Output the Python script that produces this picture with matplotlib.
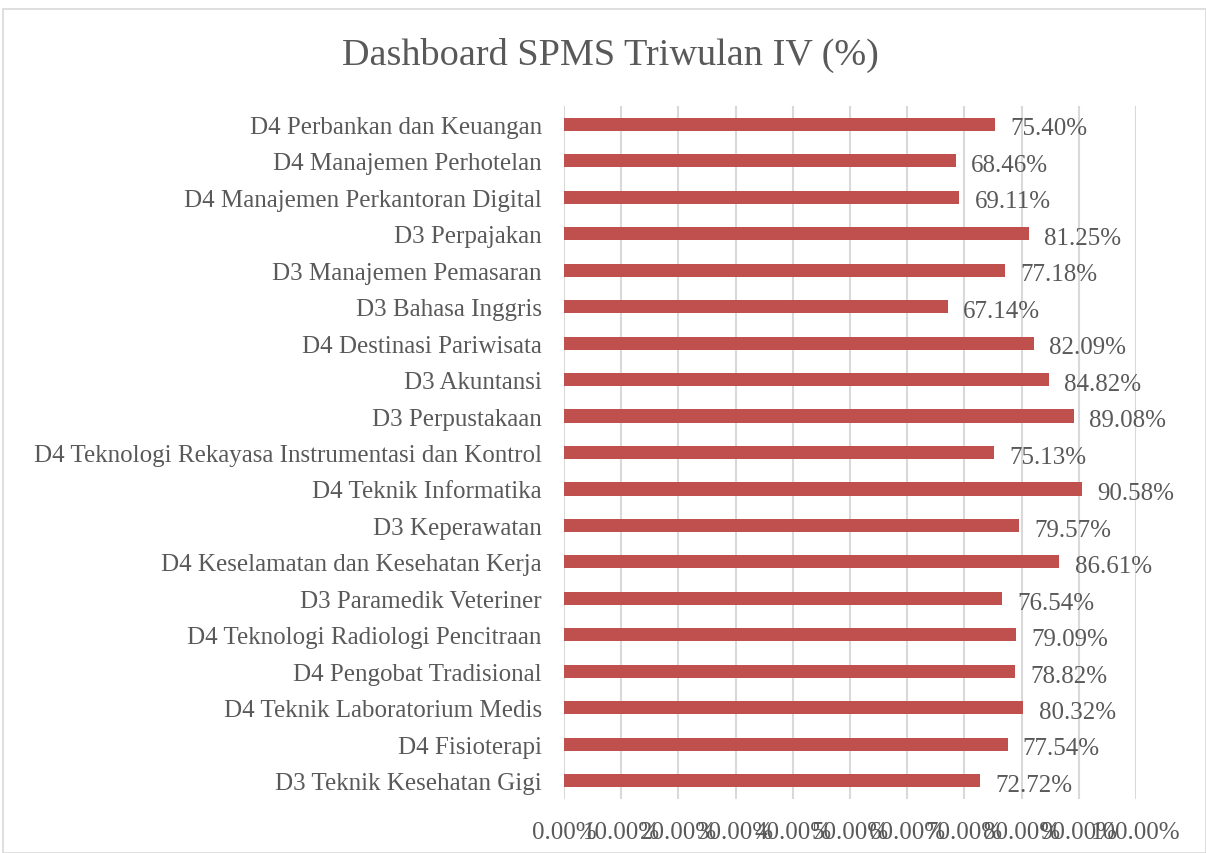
import matplotlib
matplotlib.use('Agg')
import matplotlib.pyplot as plt
from matplotlib.patches import Rectangle

# top-to-bottom order as shown in the chart
PROGRAMS = [
    'D4 Perbankan dan Keuangan',
    'D4 Manajemen Perhotelan',
    'D4 Manajemen Perkantoran Digital',
    'D3 Perpajakan',
    'D3 Manajemen Pemasaran',
    'D3 Bahasa Inggris',
    'D4 Destinasi Pariwisata',
    'D3 Akuntansi',
    'D3 Perpustakaan',
    'D4 Teknologi Rekayasa Instrumentasi dan Kontrol',
    'D4 Teknik Informatika',
    'D3 Keperawatan',
    'D4 Keselamatan dan Kesehatan Kerja',
    'D3 Paramedik Veteriner',
    'D4 Teknologi Radiologi Pencitraan',
    'D4 Pengobat Tradisional',
    'D4 Teknik Laboratorium Medis',
    'D4 Fisioterapi',
    'D3 Teknik Kesehatan Gigi',
]
SCORES = [75.40, 68.46, 69.11, 81.25, 77.18, 67.14, 82.09, 84.82, 89.08, 75.13,
          90.58, 79.57, 86.61, 76.54, 79.09, 78.82, 80.32, 77.54, 72.72]
X_TICKS = [0, 10, 20, 30, 40, 50, 60, 70, 80, 90, 100]

BAR_COLOR = '#C0504D'
TEXT_COLOR = '#595959'
GRID_COLOR = '#D9D9D9'
FS = 18

plt.rcParams['font.family'] = ['Liberation Serif', 'DejaVu Serif']

fig = plt.figure(figsize=(12.06, 8.54), dpi=100)
fig.patches.append(Rectangle((3 / 1206, 0), 1 - 3 / 1206, 1 - 10 / 854,
                             transform=fig.transFigure, fill=False,
                             edgecolor=GRID_COLOR, linewidth=1.2))

ax = fig.add_axes([564 / 1206, 1 - 800 / 854, (1136 - 564) / 1206, (800 - 107) / 854])
ypos = list(range(len(PROGRAMS)))
ax.barh(ypos, SCORES, height=0.36, color=BAR_COLOR, zorder=3)
ax.set_ylim(len(PROGRAMS) - 0.5, -0.5)
ax.set_xlim(0, 100)

ax.set_yticks(ypos)
ax.set_yticklabels(PROGRAMS, fontsize=FS, color=TEXT_COLOR)
ax.set_xticks(X_TICKS)
ax.set_xticklabels([f'{t:.2f}%' for t in X_TICKS], fontsize=FS, color=TEXT_COLOR)
ax.tick_params(axis='both', length=0)
ax.tick_params(axis='y', pad=16)
ax.tick_params(axis='x', pad=16)
ax.grid(axis='x', color=GRID_COLOR, linewidth=1.5, zorder=0)
for s in ax.spines.values():
    s.set_visible(False)

for y, v in zip(ypos, SCORES):
    ax.annotate(f'{v:.2f}%', (v, y), xytext=(11, -3), textcoords='offset points',
                va='center', ha='left', fontsize=FS, color=TEXT_COLOR)

fig.text(610 / 1206, 1 - 55 / 854, 'Dashboard SPMS Triwulan IV (%)',
         ha='center', va='center', fontsize=27.5, color=TEXT_COLOR)

fig.savefig('out.png', dpi=100)
